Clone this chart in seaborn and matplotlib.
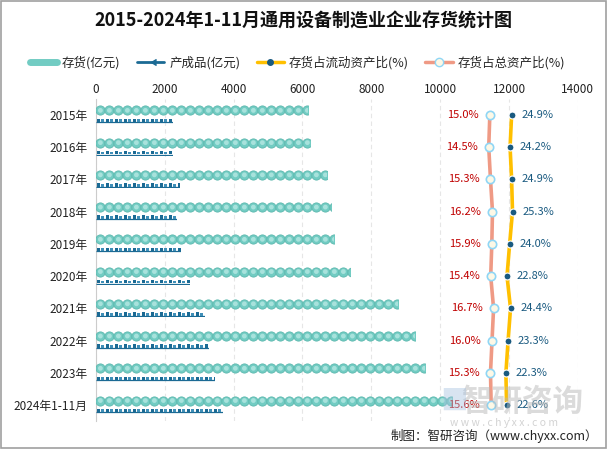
import numpy as np
import pandas as pd
import matplotlib
matplotlib.use("Agg")
import matplotlib.pyplot as plt
from matplotlib.patches import Rectangle
from matplotlib.lines import Line2D
import seaborn as sns

categories = ["2015年", "2016年", "2017年", "2018年", "2019年", "2020年",
              "2021年", "2022年", "2023年", "2024年1-11月"]
inventory = [6160, 6220, 6710, 6830, 6920, 7380, 8780, 9270, 9560, 10340]
products = [2230, 2250, 2440, 2360, 2470, 2730, 3170, 3280, 3460, 3700]
ratio_current = [24.9, 24.2, 24.9, 25.3, 24.0, 22.8, 24.4, 23.3, 22.3, 22.6]
ratio_total = [15.0, 14.5, 15.3, 16.2, 15.9, 15.4, 16.7, 16.0, 15.3, 15.6]
xticks = [0, 2000, 4000, 6000, 8000, 10000, 12000, 14000]

TEAL = "#72ccc3"
TEAL_IN = "#a8e2dc"
NAVY = "#1b6a94"
YELLOW = "#ffc000"
SALMON = "#ef9a85"
RED = "#c00000"
DARKBLUE = "#1a5a80"

sns.set_style("white")
plt.rcParams["font.family"] = ["Noto Sans CJK SC", "DejaVu Sans"]

fig = plt.figure(figsize=(6.07, 4.49), dpi=100)
ax = fig.add_axes([0.158, 0.062, 0.794, 0.718])

df = pd.DataFrame({
    "cat": categories * 2,
    "val": inventory + products,
    "series": ["存货(亿元)"] * len(categories) + ["产成品(亿元)"] * len(categories),
})
sns.barplot(data=df, x="val", y="cat", hue="series", orient="h", width=0.56,
            dodge=True, palette=[TEAL, NAVY], legend=False, ax=ax, errorbar=None)

px_per_unit = 482 / 14000.0
step = 9 / px_per_unit
pstep = 9 / px_per_unit

for p in list(ax.patches):
    w = p.get_width()
    y0 = p.get_y()
    h = p.get_height()
    yc = y0 + h / 2
    is_inv = p.get_facecolor()[1] > 0.6
    p.set_alpha(0)
    if is_inv:
        # inventory row: chain of circles
        clip = Rectangle((0, yc - 0.3), w, 0.6, transform=ax.transData)
        xs = np.arange(step / 2, w + step, step)
        s1 = ax.scatter(xs, np.full_like(xs, yc), s=44, color=TEAL,
                        edgecolor="#5cb8ae", linewidth=0.6, zorder=3)
        s2 = ax.scatter(xs, np.full_like(xs, yc), s=12, color=TEAL_IN,
                        edgecolor="none", zorder=4)
        s1.set_clip_path(clip)
        s2.set_clip_path(clip)
    else:
        # finished-product row: small icons
        ybase = yc + 0.04
        clip = Rectangle((0, ybase - 0.2), w, 0.3, transform=ax.transData)
        ln = ax.plot([0, w], [ybase + 0.05, ybase + 0.05], color=NAVY, lw=0.9,
                     solid_capstyle="butt", zorder=3)[0]
        xs = np.arange(pstep * 0.3, w + pstep, pstep)
        m1 = ax.scatter(xs, np.full_like(xs, ybase - 0.01), s=6, marker="s",
                        color=NAVY, edgecolor="none", zorder=3)
        m2 = ax.scatter(xs + pstep * 0.45, np.full_like(xs, ybase), s=4,
                        marker="s", color="#3f8fb8", edgecolor="none", zorder=3)
        ln.set_clip_path(clip)
        m1.set_clip_path(clip)
        m2.set_clip_path(clip)

ax.set_xlim(0, 14000)
ax.set_ylim(len(categories) - 0.5, -0.5)
ax.set_xlabel("")
ax.set_ylabel("")
ax.grid(axis="x", color="#e6e6e6", linestyle=(0, (4, 3)), linewidth=0.8)
ax.set_axisbelow(True)
for s in ["top", "right", "bottom"]:
    ax.spines[s].set_visible(False)
ax.spines["left"].set_color("#cccccc")

# percentage lines on a hidden secondary x axis
ax2 = ax.twiny()
ypos = np.arange(len(categories))
sns.lineplot(x=ratio_total, y=ypos, orient="y", sort=False, color=SALMON,
             lw=2.6, marker="o", markersize=6, markerfacecolor="#fdf8e6",
             markeredgecolor="#8fd6f5", markeredgewidth=1.2, ax=ax2, zorder=5)
sns.lineplot(x=ratio_current, y=ypos, orient="y", sort=False, color=YELLOW,
             lw=2.6, marker="o", markersize=5, markerfacecolor=DARKBLUE,
             markeredgecolor="white", markeredgewidth=0.8, ax=ax2, zorder=5)
ax2.set_xlim(-164, 55)
ax2.set_ylim(len(categories) - 0.5, -0.5)
ax2.set_xticks([])
ax2.set_xlabel("")
for s in ax2.spines.values():
    s.set_visible(False)

# value axis on top (after twiny, which moves ticks to the bottom)
ax.set_xticks(xticks)
ax.xaxis.set_ticks_position("top")
ax.xaxis.set_label_position("top")
ax.tick_params(axis="x", length=0, labelsize=8.5, pad=2, labelcolor="#222222",
               labeltop=True, labelbottom=False)
ax.tick_params(axis="y", length=0, labelsize=8.5, pad=6, labelcolor="#222222")

for yv, t, c in zip(ypos, ratio_total, ratio_current):
    ax2.annotate(f"{t:.1f}%", (t, yv), xytext=(-8, 0), textcoords="offset points",
                 ha="right", va="center", fontsize=8, color=RED, zorder=6)
    ax2.annotate(f"{c:.1f}%", (c, yv), xytext=(7, 0), textcoords="offset points",
                 ha="left", va="center", fontsize=8, color=DARKBLUE, zorder=6)

fig.suptitle("2015-2024年1-11月通用设备制造业企业存货统计图", x=0.5, y=0.975,
             fontsize=13, fontweight="bold", color="#111111")

handles = [
    Line2D([], [], color=TEAL, lw=5, solid_capstyle="round"),
    Line2D([], [], color=NAVY, lw=2, marker=4, markersize=5, markevery=[0]),
    Line2D([], [], color=YELLOW, lw=2.5, marker="o", markersize=4,
           markerfacecolor=DARKBLUE, markeredgecolor=DARKBLUE),
    Line2D([], [], color=SALMON, lw=2.5, marker="o", markersize=6,
           markerfacecolor="#fdf8e6", markeredgecolor="#8fd6f5"),
]
labels = ["存货(亿元)", "产成品(亿元)", "存货占流动资产比(%)", "存货占总资产比(%)"]
fig.legend(handles, labels, loc="center", bbox_to_anchor=(0.49, 0.86), ncol=4,
           frameon=False, fontsize=9, handlelength=2.2, handletextpad=0.4,
           columnspacing=1.3)

# watermark and source
fig.text(0.86, 0.105, "智研咨询", fontsize=22, color="#b8b8b8", alpha=0.5,
         ha="center", va="center", fontweight="bold")
fig.text(0.748, 0.105, "■", fontsize=20, color="#aac4e0", alpha=0.45,
         ha="center", va="center")
fig.text(0.83, 0.058, "w w w . c h y x x . c o m", fontsize=7.5, color="#c0c0c0",
         alpha=0.7, ha="center", va="center")
fig.text(0.985, 0.028, "制图：智研咨询（www.chyxx.com）", fontsize=9,
         color="#222222", ha="right", va="center")

fig.patches.append(Rectangle((0.001, 0.002), 0.997, 0.996, transform=fig.transFigure,
                             fill=False, edgecolor="#a0a0a0", lw=1.2))

fig.savefig("out.png", dpi=100)
